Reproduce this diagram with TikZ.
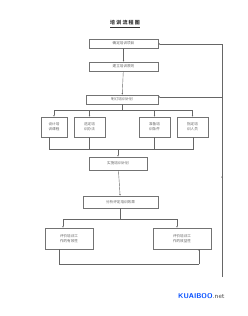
\documentclass[tikz,border=0pt]{standalone}
\usepackage{fontspec}
\newfontfamily\cjk{Noto Sans CJK SC}
\usetikzlibrary{arrows.meta}
\begin{document}
\begin{tikzpicture}[x=1pt,y=-1pt,
  box/.style={draw=black!55,line width=0.4pt,fill=white,inner sep=0pt,font=\cjk\fontsize{3.6}{5}\selectfont,text=black!60,align=center},
  conn/.style={draw=black!60,line width=0.4pt},
  arr/.style={conn,-{Latex[length=1.6pt,width=1.4pt]}}]
\useasboundingbox[fill=white] (0,0) rectangle (248,316);
\node[font=\cjk\bfseries\fontsize{5}{6}\selectfont,text=black!80] (title) at (125,24) {\underline{培 训 流 程 图}};
\node[box,minimum width=69pt,minimum height=9pt] (b1) at (123.5,43.5) {确定培训项目};
\node[box,minimum width=69pt,minimum height=9pt] (b2) at (123.5,66.5) {建立培训原则};
\node[box,minimum width=72pt,minimum height=9pt] (b3) at (122,99.5) {制订培训计划};
\node[box,minimum width=26pt,minimum height=20pt] (c1) at (54,127) {设计培\\训课程};
\node[box,minimum width=31pt,minimum height=20pt] (c2) at (89.5,127) {选定培\\训办法};
\node[box,minimum width=31pt,minimum height=20pt] (c3) at (154.5,127) {准备培\\训条件};
\node[box,minimum width=31pt,minimum height=20pt] (c4) at (192.5,127) {指定培\\训人员};
\node[box,minimum width=58pt,minimum height=13pt] (b5) at (118,163.5) {实施培训计划};
\node[box,minimum width=75pt,minimum height=12pt] (b6) at (120.5,202) {分析评定培训效果};
\node[box,minimum width=48pt,minimum height=21pt] (d1) at (69,238.5) {评价培训工\\作的有效性};
\node[box,minimum width=58pt,minimum height=21pt] (d2) at (182,238.5) {评价培训工\\作的效益性};
\node[font=\sffamily\bfseries\fontsize{7}{8}\selectfont,text=blue!70!cyan,anchor=west,inner sep=0pt] (wm) at (178,296) {KUAIBOO\textcolor{black!70}{\mdseries.net}};
% main flow
\draw[arr] (b1) -- (b2);
\draw[arr] (b2) -- (b3);
\coordinate (s1) at (122,110);
\draw[conn] (b3) -- (s1);
\coordinate (sl) at (54,110); \coordinate (sr) at (192.5,110);
\draw[conn] (sl) -- (sr);
\draw[arr] (sl) -- (c1);
\draw[arr] (89.5,110) -- (c2);
\draw[arr] (154.5,110) -- (c3);
\draw[arr] (sr) -- (c4);
\coordinate (m1) at (49,149); \coordinate (m4) at (193,149);
\draw[conn] (c1.south -| m1) -- (m1) -- (m4) -- (c4.south -| m4);
\draw[conn] (c2.south) -- (89.5,149);
\draw[conn] (c3.south) -- (154.5,149);
\draw[arr] (118,149) -- (b5);
\draw[arr] (b5) -- (b6);
\coordinate (t1) at (63,219); \coordinate (t2) at (177,219);
\draw[conn] (b6.south |- b6.south) -- (120.5,219);
\draw[conn] (t1) -- (t2);
\draw[arr] (t1) -- (t1 |- d1.north);
\draw[arr] (t2) -- (t2 |- d1.north);
\coordinate (u1) at (59,264); \coordinate (u2) at (199,264);
\draw[conn] (59,249) -- (u1) -- (u2);
\draw[arr] (u2) -- (199,249);
% feedback
\coordinate (f0) at (222,277);
\coordinate (f1) at (222,44);
\coordinate (f3) at (222,97);
\draw[conn] (f0) -- (f1);
\draw[arr] (222,180) -- (222,176);
\draw[arr] (f1) -- (b1.east |- f1);
\draw[arr] (f3) -- (b3.east |- f3);
\end{tikzpicture}
\end{document}
